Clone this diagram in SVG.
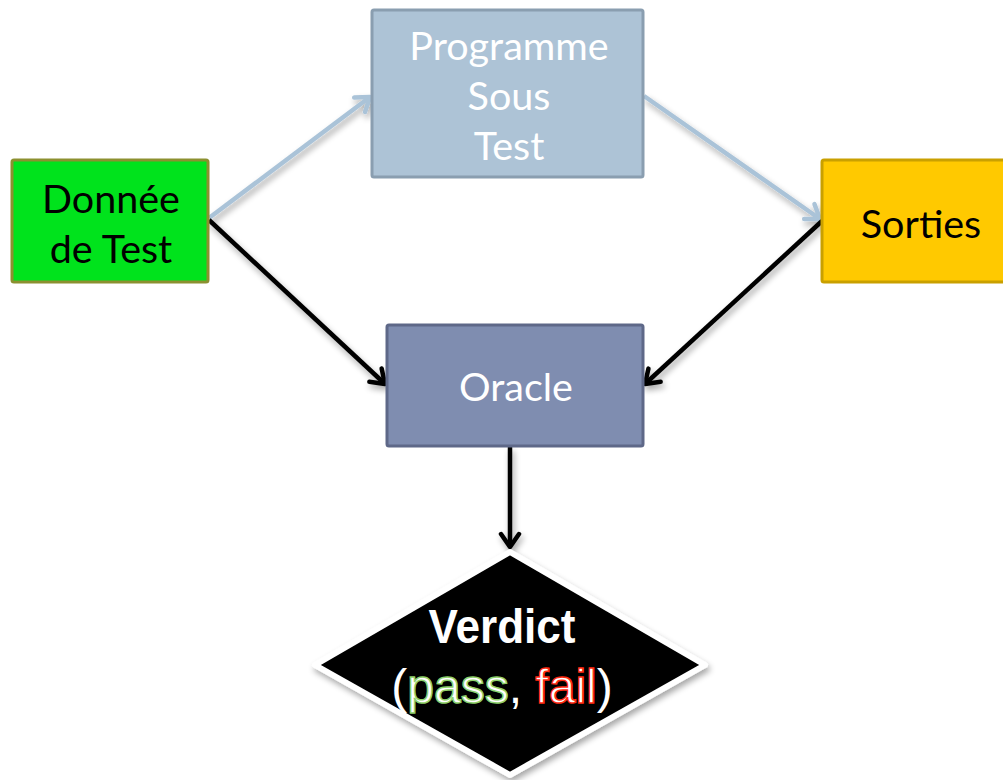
<svg xmlns="http://www.w3.org/2000/svg" width="1003" height="780" viewBox="0 0 1003 780">
  <defs>
    <filter id="shadow" x="-20%" y="-20%" width="140%" height="160%">
      <feGaussianBlur in="SourceAlpha" stdDeviation="3"/>
      <feOffset dx="2" dy="4" result="b"/>
      <feComponentTransfer><feFuncA type="linear" slope="0.35"/></feComponentTransfer>
      <feMerge><feMergeNode/><feMergeNode in="SourceGraphic"/></feMerge>
    </filter>
    <marker id="headBlack" viewBox="-16 -12 20 24" markerWidth="20" markerHeight="24" refX="0" refY="0" orient="auto" markerUnits="userSpaceOnUse">
      <path d="M-13,-9 L0,0 L-13,9" fill="none" stroke="#000" stroke-width="4.5" stroke-linecap="round" stroke-linejoin="round"/>
    </marker>
    <marker id="headBlue" viewBox="-16 -12 20 24" markerWidth="20" markerHeight="24" refX="0" refY="0" orient="auto" markerUnits="userSpaceOnUse">
      <path d="M-13,-9 L0,0 L-13,9" fill="none" stroke="#aac3d8" stroke-width="4.5" stroke-linecap="round" stroke-linejoin="round"/>
    </marker>
  </defs>
  <style>
    .lbl { font-family: Lato, "Open Sans", "Liberation Sans", sans-serif; font-size: 39.5px; text-anchor: middle; }
    .box { stroke-width: 3; }
    .blue { stroke: #aac3d8; stroke-width: 4.5; fill: none; }
    .black { stroke: #000; stroke-width: 4.5; fill: none; }
    .vd { font-family: "Liberation Sans", Arial, sans-serif; font-size: 48px; text-anchor: middle; }
  </style>

  <rect width="1003" height="780" fill="#fff"/>

  <!-- connectors -->
  <g id="connectors" filter="url(#shadow)">
    <line class="blue" x1="209" y1="218" x2="370" y2="97" marker-end="url(#headBlue)"/>
    <line class="blue" x1="644" y1="96" x2="820" y2="219" marker-end="url(#headBlue)"/>
    <line class="black" x1="209" y1="220" x2="385" y2="384" marker-end="url(#headBlack)"/>
    <line class="black" x1="822" y1="221" x2="645" y2="384" marker-end="url(#headBlack)"/>
    <line class="black" x1="510" y1="447" x2="510" y2="547" marker-end="url(#headBlack)"/>
  </g>

  <!-- input data -->
  <g id="donnee">
    <rect class="box" x="12" y="160" width="196" height="122" rx="2" fill="#00e31c" stroke="#8c9030"/>
    <text class="lbl" x="111" y="213" fill="#000">Donnée</text>
    <text class="lbl" x="111" y="263" fill="#000">de Test</text>
  </g>

  <!-- program under test -->
  <g id="programme">
    <rect class="box" x="372" y="10" width="271" height="167" rx="2" fill="#adc3d6" stroke="#8a9eb0"/>
    <text class="lbl" x="509" y="60" fill="#fff">Programme</text>
    <text class="lbl" x="509" y="110" fill="#fff">Sous</text>
    <text class="lbl" x="509" y="160" fill="#fff">Test</text>
  </g>

  <!-- outputs -->
  <g id="sorties">
    <rect class="box" x="822" y="160" width="190" height="122" rx="2" fill="#ffc900" stroke="#c9a000"/>
    <text class="lbl" x="921" y="238" fill="#000">Sorties</text>
  </g>

  <!-- oracle -->
  <g id="oracle">
    <rect class="box" x="387" y="325" width="256" height="121" rx="2" fill="#7f8db0" stroke="#5e6888"/>
    <text class="lbl" x="516" y="401" fill="#fff">Oracle</text>
  </g>

  <!-- verdict -->
  <g id="verdict">
    <polygon points="510,552 705,665 510,775 315,665" fill="#000" stroke="#fff" stroke-width="6" stroke-linejoin="round" filter="url(#shadow)"/>
    <text class="vd" x="502" y="643" fill="#fff" font-weight="bold" textLength="147" lengthAdjust="spacingAndGlyphs">Verdict</text>
    <text class="vd" x="502" y="703" fill="#fff">(<tspan stroke="#8fd06a" stroke-width="1.5">pass</tspan>, <tspan stroke="#ff2a10" stroke-width="1.5">fail</tspan>)</text>
  </g>
</svg>
